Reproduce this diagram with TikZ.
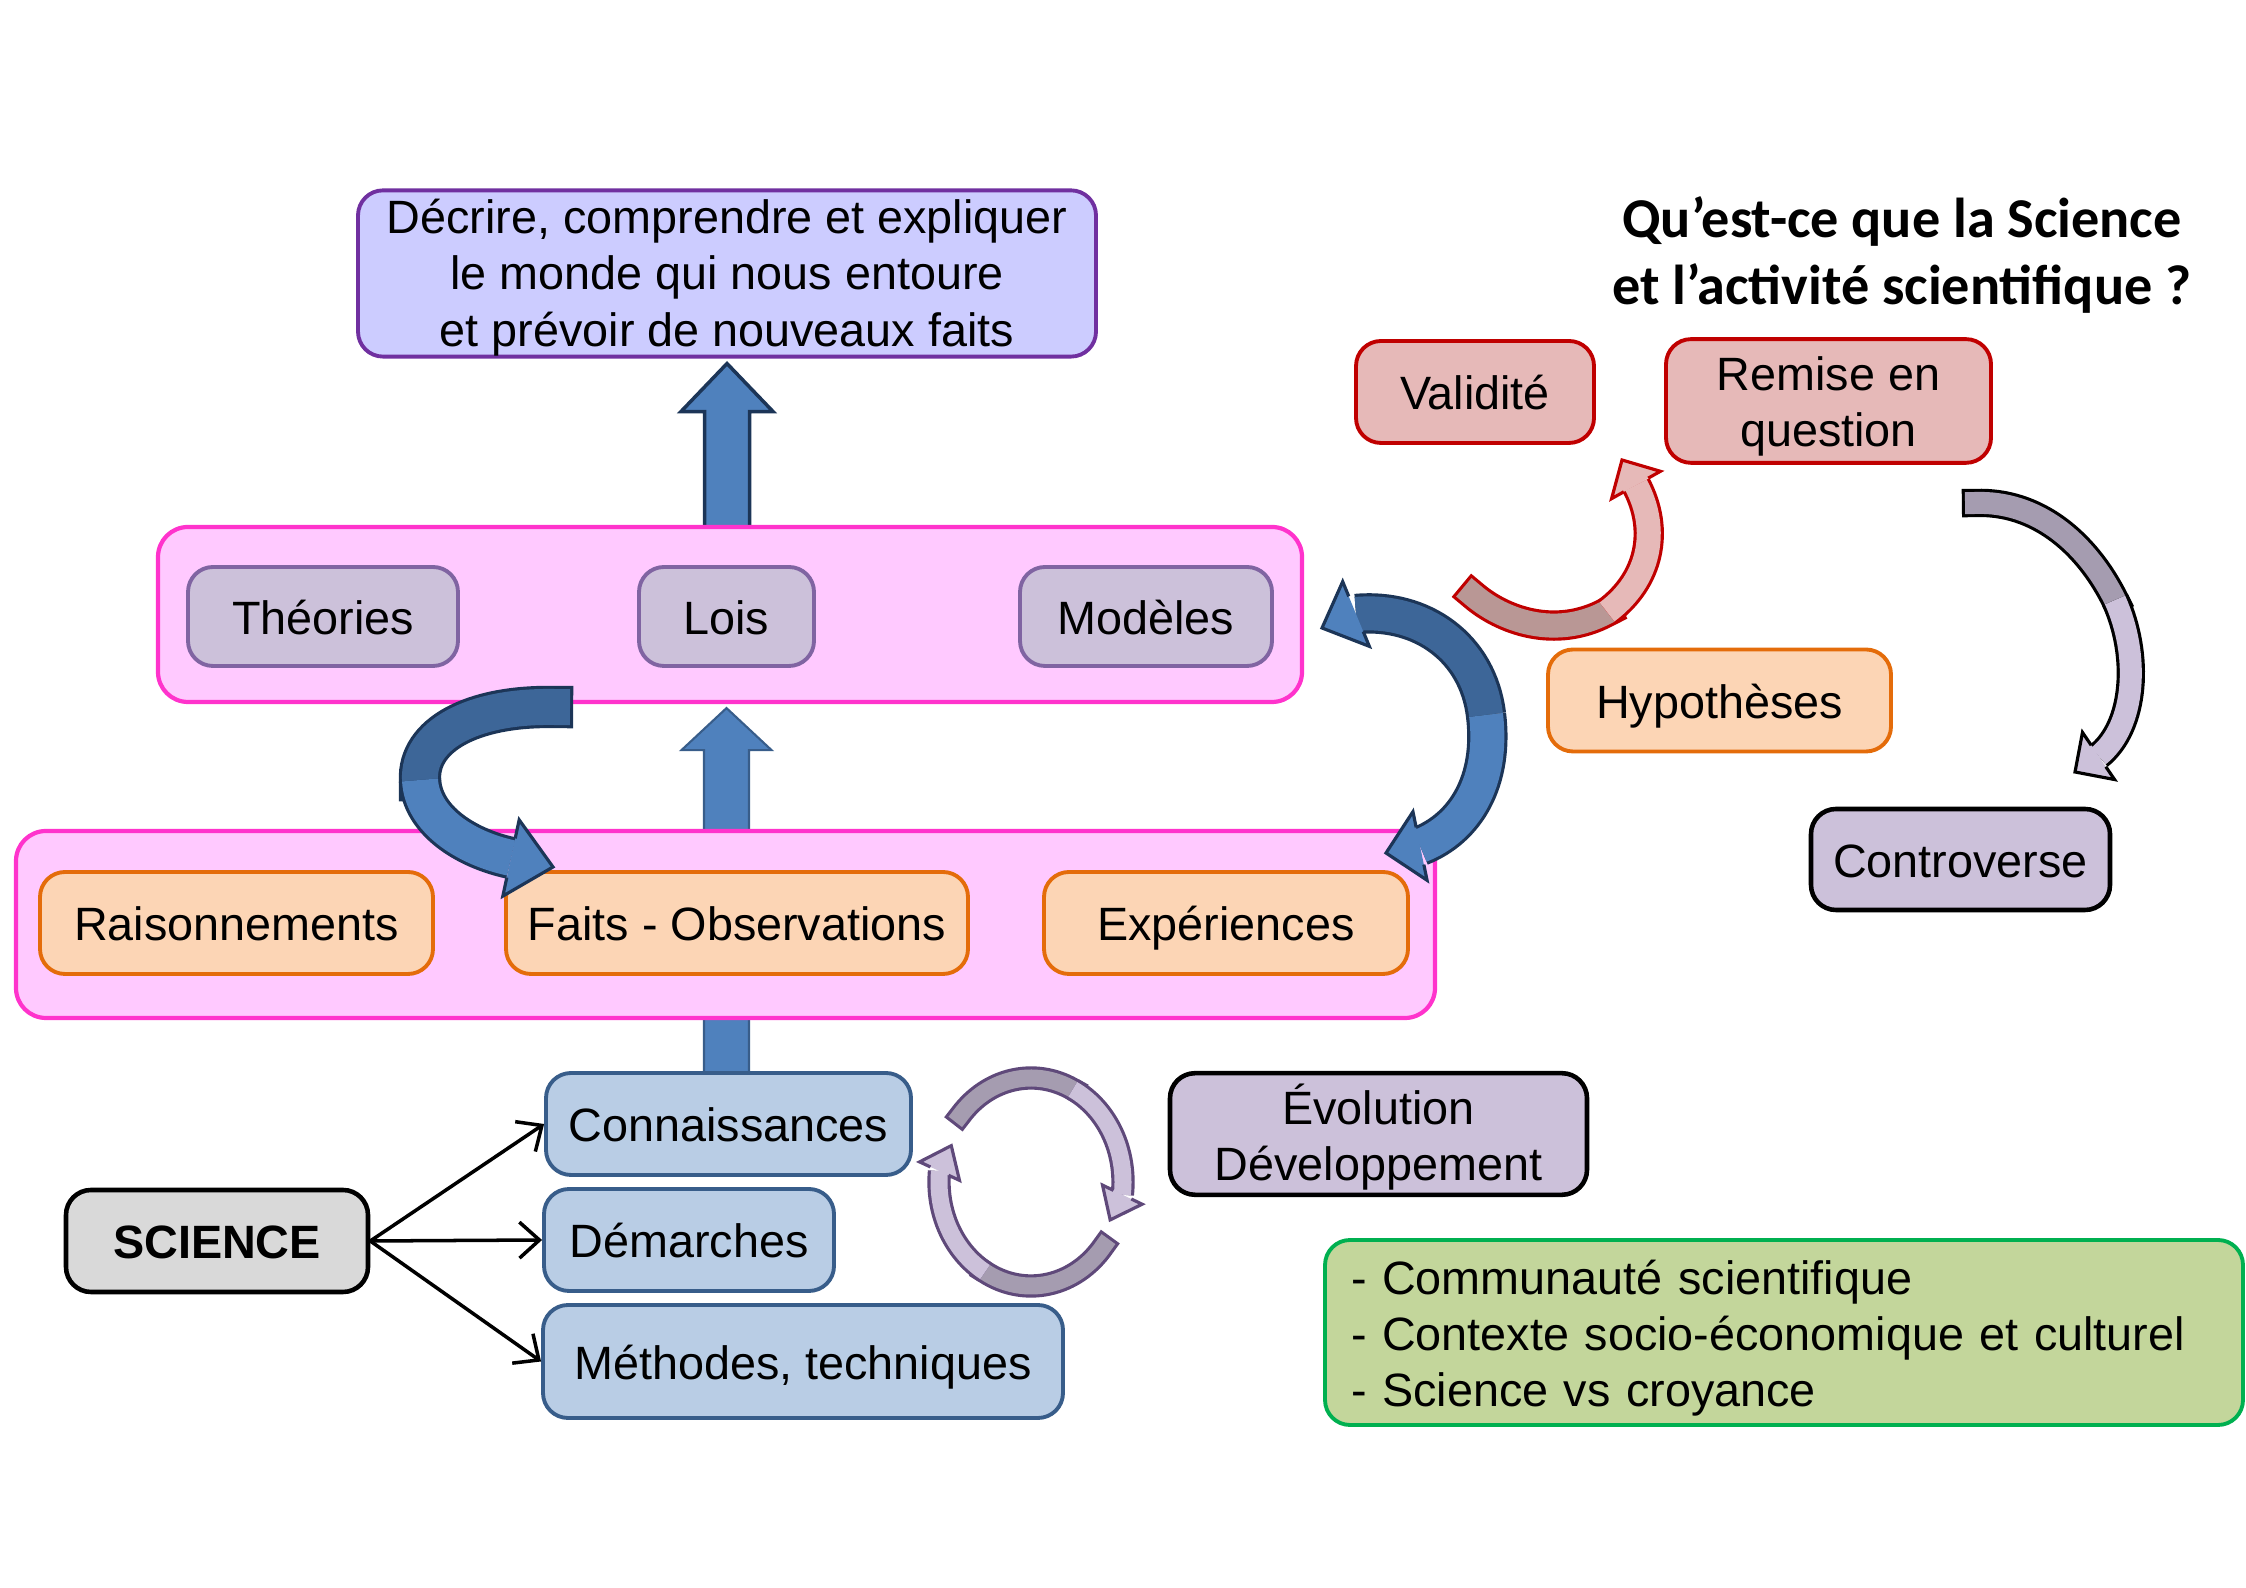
\documentclass[tikz,border=0pt]{standalone}
\usepackage{fontspec}
\setmainfont{Liberation Sans}
\newfontfamily\titlefont{Carlito}
\usetikzlibrary{arrows.meta, calc, backgrounds}
\definecolor{mGoalFill}{HTML}{CCCCFF}
\definecolor{mGoalLine}{HTML}{7030A0}
\definecolor{mPinkFill}{HTML}{FFC9FF}
\definecolor{mPinkLine}{HTML}{FF33CC}
\definecolor{mLilacFill}{HTML}{CCC1DA}
\definecolor{mLilacLine}{HTML}{8064A2}
\definecolor{mLilacDark}{HTML}{A59CB0}
\definecolor{mPlumLine}{HTML}{5F497A}
\definecolor{mOrangeFill}{HTML}{FCD5B5}
\definecolor{mOrangeLine}{HTML}{E46C0A}
\definecolor{mRedFill}{HTML}{E6B9B8}
\definecolor{mRedDark}{HTML}{B99795}
\definecolor{mRedLine}{HTML}{C00000}
\definecolor{mBlueFill}{HTML}{B9CDE5}
\definecolor{mBlueLine}{HTML}{385D8A}
\definecolor{mBlue}{HTML}{4F81BD}
\definecolor{mBlueDark}{HTML}{3D6698}
\definecolor{mNavy}{HTML}{1C3557}
\definecolor{mGrey}{HTML}{D9D9D9}
\definecolor{mGreenFill}{HTML}{C3D69B}
\definecolor{mGreenLine}{HTML}{00B050}
\tikzset{
  sbox/.style={draw, rounded corners=2.5mm, line width=1.1pt, inner sep=2pt,
               align=center, font=\fontsize{13.3}{16}\selectfont,
               execute at begin node={\rule[-0.21em]{0pt}{1.19em}},
               execute at end node={\rule[-0.21em]{0pt}{1.19em}}},
  goalbox/.style={sbox, fill=mGoalFill, draw=mGoalLine, minimum width=7.38cm,
                  inner ysep=0pt, text height=44.3pt, text depth=3pt},
  pinkframe/.style={draw=mPinkLine, fill=mPinkFill, rounded corners=3mm,
                    line width=1.2pt, inner sep=0pt},
  lilacbox/.style={sbox, fill=mLilacFill, draw=mLilacLine, minimum height=0.99cm},
  orangebox/.style={sbox, fill=mOrangeFill, draw=mOrangeLine, minimum height=1.02cm},
  redbox/.style={sbox, fill=mRedFill, draw=mRedLine},
  bluebox/.style={sbox, fill=mBlueFill, draw=mBlueLine, minimum height=1.02cm},
  greybox/.style={sbox, fill=mGrey, draw=black, line width=1.3pt, minimum height=1.02cm,
                  font=\fontsize{13.3}{16}\selectfont\bfseries},
  greenbox/.style={sbox, fill=mGreenFill, draw=mGreenLine, align=left,
                   text width=8.66cm, inner xsep=0.26cm, minimum height=1.85cm},
  titletext/.style={font=\titlefont\fontsize{16}{19}\selectfont\bfseries, align=center},
  blockarrow/.style={draw=mNavy, fill=mBlue, line width=1pt},
  blockarrowb/.style={draw=mBlueLine, fill=mBlue, line width=0.6pt},
  sciarrow/.style={-{Straight Barb[length=2mm, width=3.6mm]}, line width=1pt},
  band/.style n args={3}{draw=#1, double=#2, double distance=#3, line width=0.9pt},
  head/.style 2 args={draw=#1, fill=#2, line width=0.9pt},
}
\newcommand{\curvehead}[5]{%
  \filldraw[#1] ($(#2)!#4!90:(#3)$) -- ($(#2)!#5!90:(#3)$) -- (#3)
    -- ($(#2)!#5!-90:(#3)$) -- ($(#2)!#4!-90:(#3)$);}

\begin{document}
\begin{tikzpicture}
  \useasboundingbox (0,0) rectangle (22.46,15.88);

  \node[goalbox] (goal) at (7.27,13.145)
    {Décrire, comprendre et expliquer\\le monde qui nous entoure\\et prévoir de nouveaux faits};
  \node[titletext] (titre) at (19.02,13.33)
    {Qu’est-ce que la Science\\et l’activité scientifique ?};
  \node[redbox, minimum width=2.38cm, minimum height=1.02cm] (valid) at (14.75,11.96) {Validité};
  \node[redbox, minimum width=3.25cm, inner ysep=0pt, text height=30.6pt, text depth=4.6pt] (remise) at (18.285,11.87) {Remise en\\question};

  \node[pinkframe, minimum width=11.44cm, minimum height=1.75cm] (cadreHaut) at (7.30,9.735) {};
  \node[lilacbox, minimum width=2.70cm] (theories) at (3.23,9.715) {Théories};
  \node[lilacbox, minimum width=1.75cm] (lois) at (7.265,9.715) {Lois};
  \node[lilacbox, minimum width=2.52cm] (modeles) at (11.46,9.715) {Modèles};

  \node[orangebox, minimum width=3.43cm] (hypo) at (17.195,8.875) {Hypothèses};
  \node[lilacbox, draw=black, line width=1.3pt, minimum width=2.99cm, minimum height=1.01cm] (contro) at (19.605,7.285) {Controverse};

  \node[pinkframe, minimum width=14.19cm, minimum height=1.87cm] (cadreBas) at (7.255,6.635) {};
  \node[orangebox, minimum width=3.93cm] (raison) at (2.365,6.65) {Raisonnements};
  \node[orangebox, minimum width=4.62cm] (faits) at (7.37,6.65) {Faits - Observations};
  \node[orangebox, minimum width=3.64cm] (exper) at (12.26,6.65) {Expériences};

  \node[bluebox, minimum width=3.65cm] (connais) at (7.285,4.64) {Connaissances};
  \node[bluebox, minimum width=2.90cm] (demarch) at (6.89,3.48) {Démarches};
  \node[bluebox, minimum width=5.20cm, minimum height=1.13cm] (methodes) at (8.03,2.265) {Méthodes, techniques};
  \node[greybox, minimum width=3.02cm] (science) at (2.17,3.47) {SCIENCE};
  \node[lilacbox, draw=black, line width=1.3pt, minimum width=4.17cm, inner ysep=0pt, text height=30.6pt, text depth=4pt] (evol) at (13.785,4.54) {Évolution\\Développement};
  \node[greenbox] (contexte) at (17.84,2.555)
    {- Communauté scientifique\\- Contexte socio-économique et culturel\\- Science vs croyance};

  \begin{scope}[on background layer]
    \draw[blockarrow] ($(goal.south |- cadreHaut.center)+(-0.225,0)$) -- ($(goal.south)+(-0.225,-0.53)$)
      -- ($(goal.south)+(-0.46,-0.53)$) -- ($(goal.south)+(0,-0.05)$) -- ($(goal.south)+(0.46,-0.53)$)
      -- ($(goal.south)+(0.225,-0.53)$) -- ($(goal.south |- cadreHaut.center)+(0.225,0)$) -- cycle;
    \draw[blockarrowb] ($(lois.south |- connais.north)+(-0.225,-0.2)$) -- ($(lois.south |- cadreHaut.south)+(-0.225,-0.46)$)
      -- ($(lois.south |- cadreHaut.south)+(-0.45,-0.46)$) -- ($(lois.south |- cadreHaut.south)+(0,-0.04)$)
      -- ($(lois.south |- cadreHaut.south)+(0.45,-0.46)$) -- ($(lois.south |- cadreHaut.south)+(0.225,-0.46)$)
      -- ($(lois.south |- connais.north)+(0.225,-0.2)$) -- cycle;
  \end{scope}

  \draw[sciarrow] (science.east) -- (connais.west);
  \draw[sciarrow] (science.east) -- (demarch.west);
  \draw[sciarrow] (science.east) -- (methodes.west);

  \coordinate (aBase) at (5.11,7.30);
  \coordinate (aTip) at (5.53,7.21);
  \draw[band={mNavy}{mBlueDark}{0.36cm}, line cap=rect] (5.52,8.81) .. controls (4.72,8.82) and (4.18,8.53) .. (4.20,8.08);
  \draw[band={mNavy}{mBlue}{0.36cm}] (4.20,8.08) .. controls (4.22,7.68) and (4.65,7.40) .. (aBase);
  \curvehead{head={mNavy}{mBlue}}{aBase}{aTip}{0.2cm}{0.39cm}

  \coordinate (bTopBase) at (13.56,9.74);
  \coordinate (bTopTip) at (13.22,9.60);
  \coordinate (bBotBase) at (14.20,7.42);
  \coordinate (bBotTip) at (13.86,7.35);
  \draw[band={mNavy}{mBlueDark}{0.34cm}] (bTopBase) .. controls (14.22,9.80) and (14.78,9.40) .. (14.86,8.73);
  \draw[band={mNavy}{mBlue}{0.34cm}] (14.86,8.73) .. controls (14.94,8.08) and (14.66,7.60) .. (bBotBase);
  \curvehead{head={mNavy}{mBlue}}{bTopBase}{bTopTip}{0.19cm}{0.35cm}
  \curvehead{head={mNavy}{mBlue}}{bBotBase}{bBotTip}{0.19cm}{0.35cm}

  \coordinate (cBase) at (16.36,11.03);
  \coordinate (cTip) at (16.22,11.28);
  \draw[band={mRedLine}{mRedDark}{0.24cm}, line cap=rect] (14.73,9.93) .. controls (15.02,9.68) and (15.55,9.48) .. (16.07,9.76);
  \draw[band={mRedLine}{mRedFill}{0.24cm}] (16.07,9.76) .. controls (16.50,10.08) and (16.60,10.58) .. (cBase);
  \curvehead{head={mRedLine}{mRedFill}}{cBase}{cTip}{0.14cm}{0.28cm}

  \coordinate (dBase) at (20.985,8.32);
  \coordinate (dTip) at (20.75,8.16);
  \draw[band={black}{mLilacDark}{0.22cm}, line cap=rect] (19.76,10.85) .. controls (20.35,10.87) and (20.85,10.48) .. (21.15,9.88);
  \draw[band={black}{mLilacFill}{0.22cm}] (21.15,9.88) .. controls (21.40,9.33) and (21.36,8.62) .. (dBase);
  \curvehead{head={black}{mLilacFill}}{dBase}{dTip}{0.13cm}{0.285cm}

  \coordinate (roue) at (10.31,4.06);
  \coordinate (eBase) at ($(roue)+(-7:0.92 and 1.04)$);
  \coordinate (eTip) at ($(roue)+(-23:0.86 and 0.97)$);
  \coordinate (fBase) at ($(roue)+(174:0.92 and 1.04)$);
  \coordinate (fTip) at ($(roue)+(158:0.86 and 0.97)$);
  \draw[band={mPlumLine}{mLilacDark}{0.17cm}, line cap=rect] ($(roue)+(140:0.92 and 1.04)$)
    arc[start angle=140, end angle=63, x radius=0.92, y radius=1.04];
  \draw[band={mPlumLine}{mLilacFill}{0.17cm}] ($(roue)+(63:0.92 and 1.04)$)
    arc[start angle=63, end angle=-7, x radius=0.92, y radius=1.04];
  \curvehead{head={mPlumLine}{mLilacFill}}{eBase}{eTip}{0.1cm}{0.22cm}
  \draw[band={mPlumLine}{mLilacDark}{0.17cm}, line cap=rect] ($(roue)+(322:0.92 and 1.04)$)
    arc[start angle=322, end angle=240, x radius=0.92, y radius=1.04];
  \draw[band={mPlumLine}{mLilacFill}{0.17cm}] ($(roue)+(240:0.92 and 1.04)$)
    arc[start angle=240, end angle=174, x radius=0.92, y radius=1.04];
  \curvehead{head={mPlumLine}{mLilacFill}}{fBase}{fTip}{0.1cm}{0.22cm}
\end{tikzpicture}
\end{document}
